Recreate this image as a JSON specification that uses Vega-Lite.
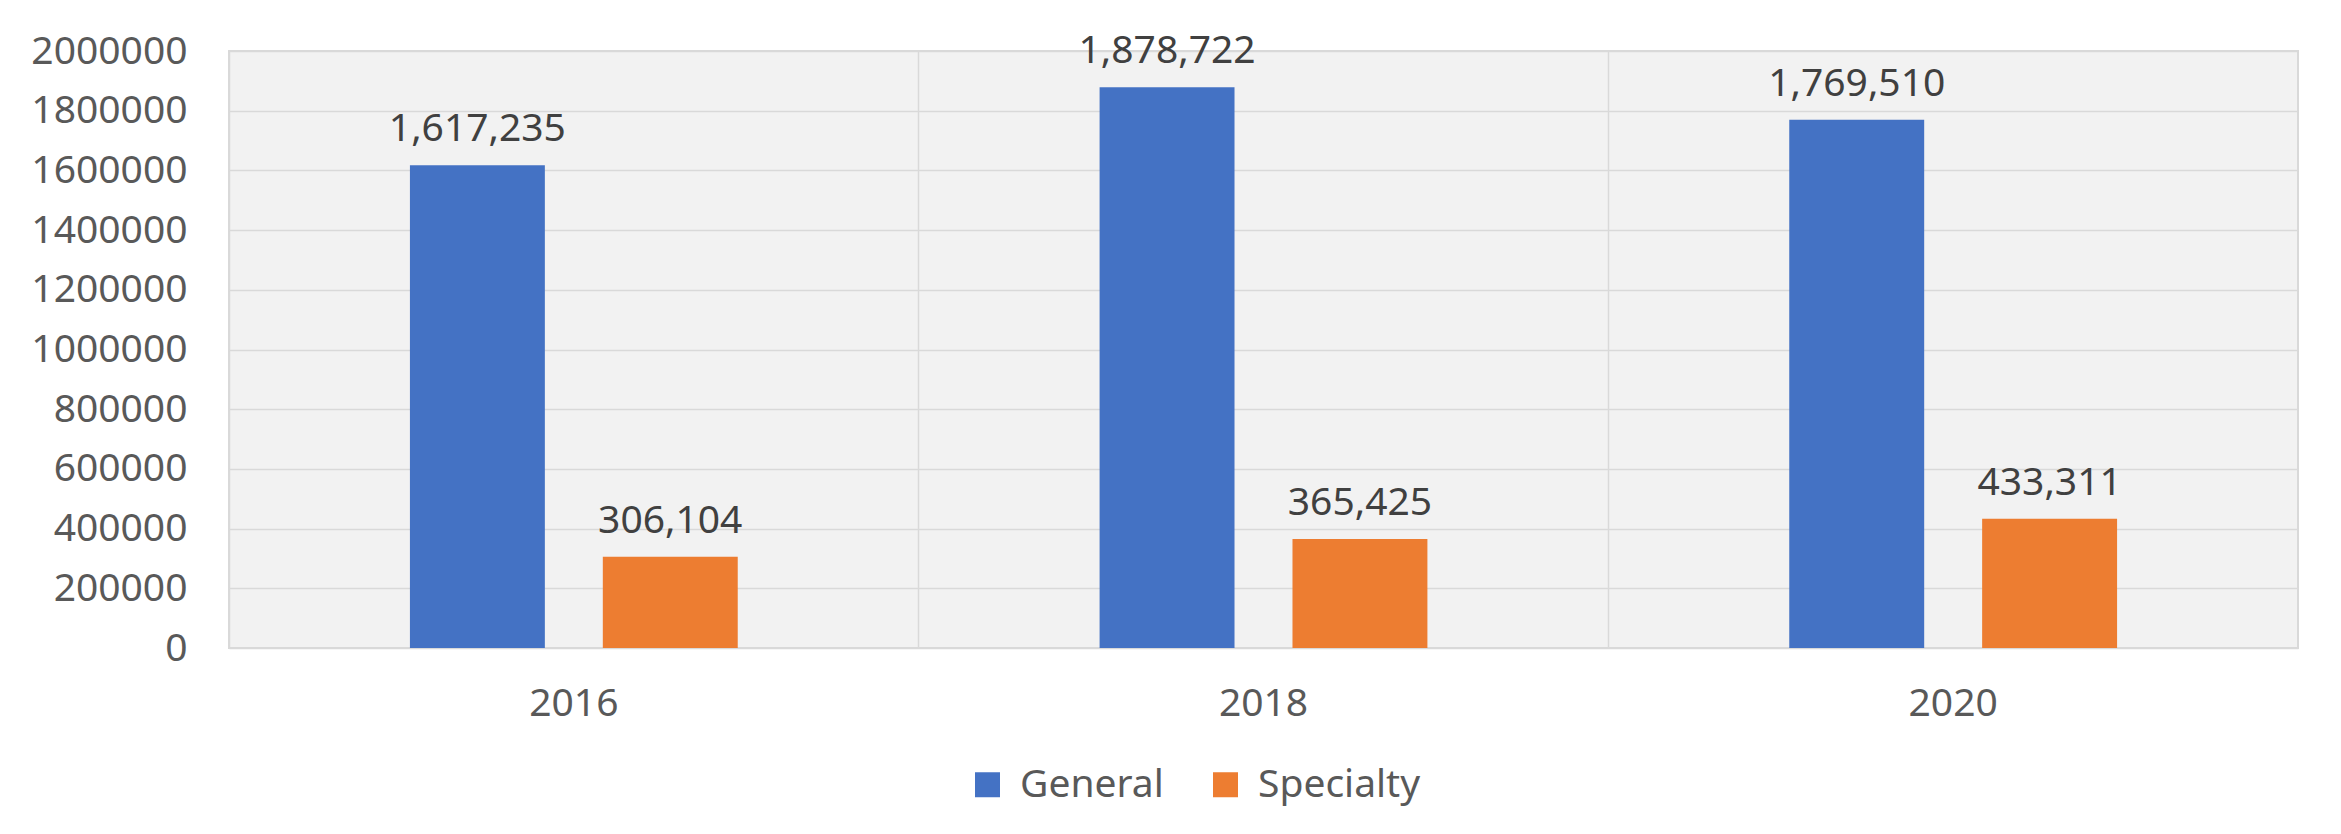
{
  "$schema": "https://vega.github.io/schema/vega-lite/v6.json",
  "autosize": {"type": "none"},
  "width": 2069,
  "height": 597,
  "padding": {"left": 229, "top": 51, "right": 43, "bottom": 186},
  "background": "#ffffff",
  "data": {
    "values": [
      {"year": "2016", "type": "General", "value": 1617235},
      {"year": "2016", "type": "Specialty", "value": 306104},
      {"year": "2018", "type": "General", "value": 1878722},
      {"year": "2018", "type": "Specialty", "value": 365425},
      {"year": "2020", "type": "General", "value": 1769510},
      {"year": "2020", "type": "Specialty", "value": 433311}
    ]
  },
  "encoding": {
    "x": {
      "field": "year", "type": "nominal",
      "scale": {"paddingInner": 0, "paddingOuter": 0},
      "axis": {
        "title": null, "labelAngle": 0, "domain": false, "ticks": false, "tickSize": 0,
        "grid": true, "bandPosition": 0, "gridColor": "#d9d9d9", "gridWidth": 1.5,
        "labelFont": "Noto Sans", "labelFontSize": 39, "labelColor": "#595959",
        "labelPadding": 36, "labelBaseline": "top"
      }
    },
    "xOffset": {
      "field": "type", "type": "nominal",
      "scale": {"paddingInner": 0.3005, "paddingOuter": 0.938}
    },
    "y": {
      "field": "value", "type": "quantitative",
      "scale": {"domain": [0, 2000000], "nice": false},
      "axis": {
        "title": null, "values": [0, 200000, 400000, 600000, 800000, 1000000, 1200000, 1400000, 1600000, 1800000, 2000000],
        "format": "d", "domain": false, "ticks": false, "tickSize": 0,
        "grid": true, "gridColor": "#d9d9d9", "gridWidth": 1.5,
        "labelFont": "Noto Sans", "labelFontSize": 39, "labelColor": "#595959",
        "labelPadding": 42
      }
    }
  },
  "layer": [
    {
      "mark": {"type": "bar"},
      "encoding": {
        "color": {
          "field": "type", "type": "nominal",
          "scale": {"domain": ["General", "Specialty"], "range": ["#4472C4", "#ED7D31"]},
          "legend": {
            "title": null, "orient": "none", "direction": "horizontal",
            "legendX": 739, "legendY": 714, "padding": 0,
            "symbolType": "square", "symbolSize": 625, "symbolStrokeWidth": 0,
            "labelFont": "Noto Sans", "labelFontSize": 39, "labelColor": "#595959",
            "labelOffset": 13, "columnPadding": 42, "labelLimit": 0
          }
        }
      }
    },
    {
      "mark": {"type": "text", "baseline": "alphabetic", "dy": -24, "font": "Noto Sans", "fontSize": 39, "color": "#404040"},
      "encoding": {
        "text": {"field": "value", "type": "quantitative", "format": ",d"}
      }
    }
  ],
  "config": {
    "view": {"fill": "#f2f2f2", "stroke": "#d9d9d9", "strokeWidth": 2}
  }
}
